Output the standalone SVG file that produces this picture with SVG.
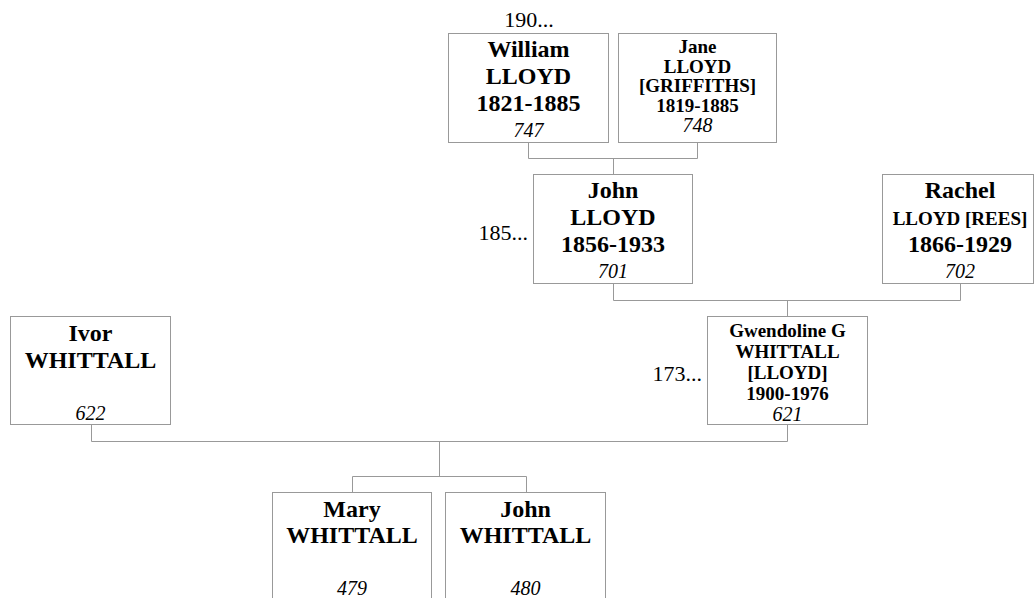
<svg xmlns="http://www.w3.org/2000/svg" width="1035" height="598" viewBox="0 0 1035 598">
<style>
.box{fill:#fff;stroke:#999;stroke-width:1}
.ln{fill:none;stroke:#999;stroke-width:1}
text{font-family:"Liberation Serif","Times New Roman",serif;fill:#000;text-anchor:middle}
.b{font-weight:bold;font-size:24px}
.s{font-weight:bold;font-size:19px}
.id{font-style:italic;font-size:20px}
.lab{font-size:22px}
.end{text-anchor:end}
</style>
<rect width="1035" height="598" fill="#fff"/>
<g id="connectors">
<path class="ln" d="M528.5,143 V158.5 H697.5 V143 M613.5,158.5 V174"/>
<path class="ln" d="M613.5,284 V300.5 H960.5 V284 M787.5,300.5 V316"/>
<path class="ln" d="M91.5,425 V441.5 H787.5 V425 M439.5,441.5 V476.5"/>
<path class="ln" d="M352.5,492 V476.5 H526.5 V492"/>
</g>
<g id="n747">
<text class="lab" x="529" y="27">190...</text>
<rect class="box" x="448.5" y="33.5" width="160" height="109"/>
<text class="b" x="528.5" y="57">William</text>
<text class="b" x="528.5" y="84">LLOYD</text>
<text class="b" x="528.5" y="111">1821-1885</text>
<text class="id" x="528.5" y="137">747</text>
</g>
<g id="n748">
<rect class="box" x="618.5" y="33.5" width="158" height="109"/>
<text class="s" x="697.5" y="53">Jane</text>
<text class="s" x="697.5" y="72.5">LLOYD</text>
<text class="s" x="697.5" y="92">[GRIFFITHS]</text>
<text class="s" x="697.5" y="111.5">1819-1885</text>
<text class="id" x="697.5" y="132">748</text>
</g>
<g id="n701">
<text class="lab end" x="528" y="240">185...</text>
<rect class="box" x="533.5" y="174.5" width="159" height="109"/>
<text class="b" x="613" y="198">John</text>
<text class="b" x="613" y="225">LLOYD</text>
<text class="b" x="613" y="252">1856-1933</text>
<text class="id" x="613" y="278">701</text>
</g>
<g id="n702">
<rect class="box" x="882.5" y="174.5" width="151" height="109"/>
<text class="b" x="960" y="198">Rachel</text>
<text class="s" x="960" y="225">LLOYD [REES]</text>
<text class="b" x="960" y="252">1866-1929</text>
<text class="id" x="960" y="278">702</text>
</g>
<g id="n622">
<rect class="box" x="10.5" y="316.5" width="160" height="108"/>
<text class="b" x="90.5" y="341">Ivor</text>
<text class="b" x="90.5" y="368">WHITTALL</text>
<text class="id" x="90.5" y="420">622</text>
</g>
<g id="n621">
<text class="lab end" x="702" y="381">173...</text>
<rect class="box" x="707.5" y="316.5" width="160" height="108"/>
<text class="s" x="787.5" y="337">Gwendoline G</text>
<text class="s" x="787.5" y="358">WHITTALL</text>
<text class="s" x="787.5" y="379">[LLOYD]</text>
<text class="s" x="787.5" y="400">1900-1976</text>
<text class="id" x="787.5" y="421">621</text>
</g>
<g id="n479">
<rect class="box" x="272.5" y="492.5" width="159" height="120"/>
<text class="b" x="352" y="517">Mary</text>
<text class="b" x="352" y="543">WHITTALL</text>
<text class="id" x="352" y="595">479</text>
</g>
<g id="n480">
<rect class="box" x="445.5" y="492.5" width="160" height="120"/>
<text class="b" x="525.5" y="517">John</text>
<text class="b" x="525.5" y="543">WHITTALL</text>
<text class="id" x="525.5" y="595">480</text>
</g>
</svg>
